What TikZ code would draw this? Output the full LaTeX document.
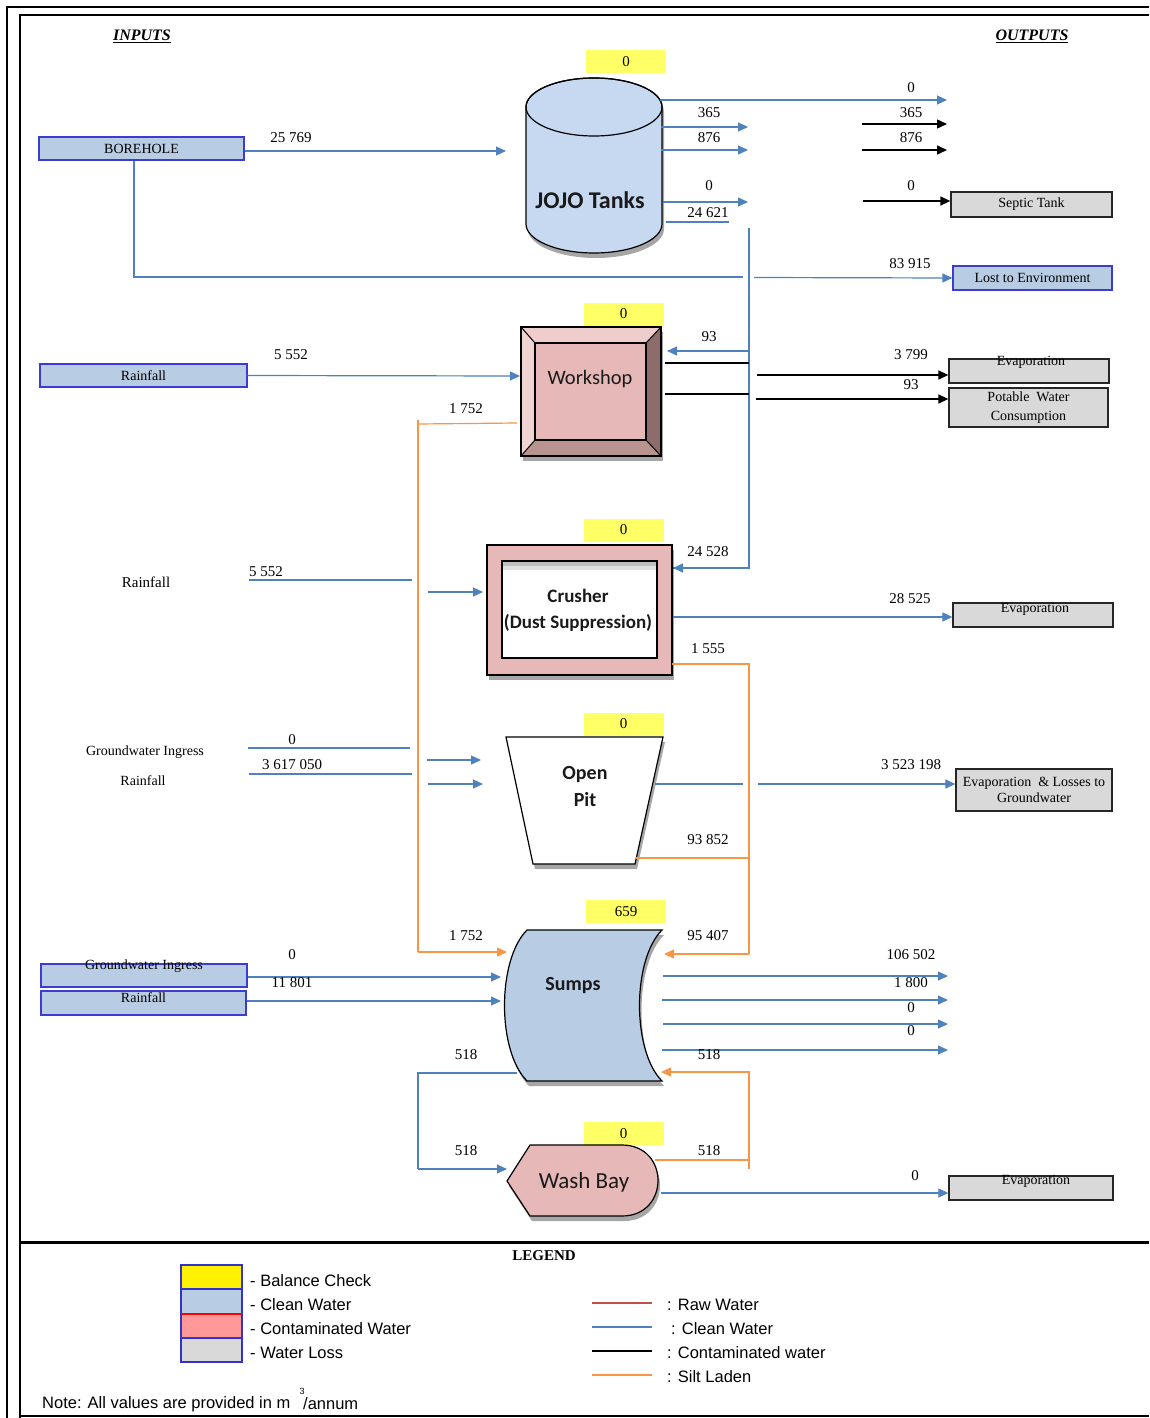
\documentclass[tikz,border=0pt]{standalone}
\usepackage{fontspec}
\setmainfont{Liberation Serif}
\newfontfamily\calib{Carlito}
\newfontfamily\arialf{Liberation Sans}
\usetikzlibrary{arrows.meta,shadows,calc}
\definecolor{cblue}{HTML}{4F81BD}
\definecolor{corange}{HTML}{F79646}
\definecolor{boxblue}{HTML}{B8CCE4}
\definecolor{boxborder}{HTML}{3C3CD0}
\definecolor{legborder}{HTML}{3333CC}
\definecolor{lossgray}{HTML}{D9D9D9}
\definecolor{balyellow}{HTML}{FFFF66}
\definecolor{pinkfill}{HTML}{E6B8B7}
\definecolor{jojoblue}{HTML}{C6D9F1}
\definecolor{bevtop}{HTML}{EECDCC}
\definecolor{bevleft}{HTML}{F0D4D4}
\definecolor{bevright}{HTML}{8E6C6B}
\definecolor{bevbot}{HTML}{B8938F}
\definecolor{legpink}{HTML}{FF9999}
\definecolor{legred}{HTML}{C0504D}
\definecolor{shapetext}{HTML}{1A1A1A}
\newcommand\nf{\fontsize{15}{17}\selectfont}
\newcommand\boxf{\fontsize{14}{16}\selectfont}
\newcommand\lf{\arialf\fontsize{16.5}{18}\selectfont}
\begin{document}
\begin{tikzpicture}[x=1pt,y=-1pt,
  lbl/.style={font=\nf, inner sep=0pt},
  blbl/.style={font=\boxf, inner sep=0pt},
  shtxt/.style={text=shapetext, align=center},
  bal/.style={fill=balyellow, minimum width=80, minimum height=23, inner sep=0pt, font=\nf},
  inbox/.style={draw=boxborder, fill=boxblue, line width=1.2pt, inner sep=0pt, font=\boxf},
  lossbox/.style={draw=black!85, fill=lossgray, line width=1.3pt, inner sep=0pt, font=\boxf},
  bl/.style={draw=cblue, line width=1.2pt},
  ba/.style={bl, -{Triangle[length=10pt,width=9pt]}},
  ol/.style={draw=corange, line width=1.2pt},
  oa/.style={ol, -{Triangle[length=10pt,width=9pt]}},
  kl/.style={draw=black, line width=2pt},
  ka/.style={draw=black, line width=1.4pt, -{Triangle[length=10pt,width=9pt]}},
  myshadow/.style={drop shadow={shadow xshift=2pt, shadow yshift=-5pt, fill=black, opacity=0.35}},
  shp/.style={draw=black, line width=1.2pt},
]
\useasboundingbox (0,0) rectangle (1149,1418);
\fill[white] (0,0) rectangle (1149,1418);
% frame
\draw[line width=2.5pt] (1149,7) -- (7,7) -- (7,1418);
\draw[line width=1.5pt] (1149,15) -- (20,15) -- (20,1418);
\draw[line width=1.5pt] (20,1416) -- (1149,1416);
\draw[line width=3pt] (20,1242) -- (1149,1242);

% headers
\node[font=\fontsize{16}{18}\selectfont\bfseries\itshape] (hin) at (142,36) {\underline{INPUTS}};
\node[font=\fontsize{16}{18}\selectfont\bfseries\itshape] (hout) at (1032,36) {\underline{OUTPUTS}};

% balance boxes
\node[bal] (b1) at (626,62) {0};
\node[bal] (b2) at (623.5,314) {0};
\node[bal] (b3) at (623.5,530) {0};
\node[bal] (b4) at (623.5,724) {0};
\node[bal] (b5) at (626,911.5) {659};
\node[bal] (b6) at (623.5,1133.5) {0};

% ===== JOJO tanks
\path[fill=jojoblue, shp, myshadow] (526,107) -- (526,224) arc[start angle=180, end angle=0, x radius=68, y radius=29] -- (662,107) arc[start angle=0, end angle=-180, x radius=68, y radius=29] -- cycle;
\draw[line width=1.2pt] (594,107) ellipse[x radius=68, y radius=29];
\node[shtxt, font=\calib\bfseries\fontsize{24}{26}\selectfont] (jojo) at (590,200) {JOJO Tanks};

% borehole
\node[inbox, minimum width=205, minimum height=23] (bh) at (141.5,148.5) {BOREHOLE};
\coordinate (bhin) at (506,151);
\draw[ba] (bh.east |- bhin) -- (bhin);
\node[lbl] (t1) at (291,138) {25 769};
\coordinate (bhc) at (134,277);
\draw[bl] (bh.south -| bhc) -- (bhc) -- (743,277);
\node[inbox, minimum width=159, minimum height=24] (lost) at (1032.5,278) {Lost to Environment};
\draw[ba] (754,277.5) -- (lost.west);
\node[lbl] (t2) at (910,264) {83 915};

% JOJO outputs
\draw[ba] (660,100) -- (947,100);
\node[lbl] (t3) at (911,88) {0};
\draw[ba] (661,127) -- (748,127);
\node[lbl] (t4) at (709,113) {365};
\draw[ba] (661,150) -- (748,150);
\node[lbl] (t5) at (709,138) {876};
\draw[ba] (663,202) -- (748,202);
\node[lbl] (t6) at (709,186) {0};
\draw[bl] (666,222) -- (729,222);
\node[lbl] (t7) at (708,213) {24 621};
\draw[ka] (862,124) -- (947,124);
\node[lbl] (t8) at (911,113) {365};
\draw[ka] (862,150) -- (947,150);
\node[lbl] (t9) at (911,138) {876};
\node[lossbox, minimum width=161, minimum height=25] (sep) at (1031.5,204.5) {Septic Tank};
\draw[ka] (863,201) -- (sep.west |- 0,201);
\node[lbl] (t10) at (911,186) {0};

% distribution line
\coordinate (d1) at (749,228);
\coordinate (d2) at (749,568);
\draw[bl] (d1) -- (d2) -- (673,568);
\draw[-{Triangle[length=10pt,width=9pt]}, cblue, line width=1.2pt] (700,568) -- (673,568);
\node[lbl] (t11) at (708,552) {24 528};
\draw[ba] (749,351) -- (667,351);
\node[lbl] (t12) at (709,337) {93};

% ===== Workshop
\node[fill=pinkfill, minimum width=140, minimum height=129, inner sep=0pt, myshadow] (ws) at (591,391.5) {};
\fill[bevtop] (521,327) -- (661,327) -- (646,343) -- (535,343) -- cycle;
\fill[bevleft] (521,327) -- (535,343) -- (535,440) -- (521,456) -- cycle;
\fill[bevright] (661,327) -- (661,456) -- (646,440) -- (646,343) -- cycle;
\fill[bevbot] (521,456) -- (661,456) -- (646,440) -- (535,440) -- cycle;
\draw[line width=1.2pt] (521,327) rectangle (661,456);
\draw[line width=1.2pt] (535,343) rectangle (646,440);
\draw[line width=1pt] (521,327) -- (535,343) (661,327) -- (646,343) (521,456) -- (535,440) (661,456) -- (646,440);
\node[shtxt, font=\calib\fontsize{20.5}{22}\selectfont] (wst) at (590,379) {Workshop};

\node[inbox, minimum width=207, minimum height=23] (rf1) at (143.5,375.5) {Rainfall};
\draw[ba] (rf1.east) -- (520,376);
\node[lbl] (t13) at (291,355) {5 552};
\draw[ol] (517,423) -- (418,424);
\draw[ol] (418,420) -- (418,952);
\draw[oa] (418,952) -- (507,952);
\node[lbl] (t14) at (466,409) {1 752};
\node[lbl] (t15) at (466,936) {1 752};

\draw[kl] (665,363) -- (749,363);
\draw[kl] (665,394) -- (749,394);
\node[lossbox, minimum width=160, minimum height=24] (ev1) at (1029,371) {};
\node[blbl] (ev1t) at (1031,362) {Evaporation};
\node[lossbox, minimum width=159, minimum height=39, align=center, font=\fontsize{14}{19}\selectfont] (pot) at (1028.5,407.5) {Potable \ Water\\Consumption};
\draw[ka] (757,375) -- (ev1.west |- 0,375);
\node[lbl] (t16) at (911,355) {3 799};
\draw[ka] (756,399) -- (pot.west |- 0,399);
\node[lbl] (t17) at (911,385) {93};

% ===== Crusher
\node[fill=pinkfill, draw=black, line width=1.2pt, minimum width=185, minimum height=130, inner sep=0pt, myshadow] (cr) at (579.5,610) {};
\fill[white] (502,561) rectangle (657,658);
\fill[black!25] (502,561) rectangle (657,566);
\fill[black!12] (502,566) rectangle (657,570);
\draw[line width=1.5pt] (502,561) rectangle (657,658);
\node[shtxt, font=\calib\bfseries\fontsize{19}{26}\selectfont] (crt) at (578,610) {Crusher\\(Dust Suppression)};

\node[lbl] (rf2) at (146,582) {Rainfall};
\draw[bl] (249,580) -- (412,580);
\node[lbl] (t18) at (266,572) {5 552};
\draw[ba] (428,592) -- (483,592);
\node[lossbox, minimum width=160, minimum height=24] (ev2) at (1033,615) {};
\node[blbl] (ev2t) at (1035,609) {Evaporation};
\draw[ba] (cr.east |- 0,617) -- (ev2.west |- 0,617);
\node[lbl] (t19) at (910,599) {28 525};
\draw[ol] (672,664) -- (749,664) -- (749,954);
\draw[oa] (749,954) -- (664,954);
\node[lbl] (t20) at (708,649) {1 555};
\node[lbl] (t21) at (708,936) {95 407};

% ===== Open pit
\path[fill=white, shp, myshadow] (506,737) -- (663,737) -- (635,864) -- (533,864) -- cycle;
\node[shtxt, font=\calib\bfseries\fontsize{20}{27}\selectfont] (opt) at (585,787) {Open\\Pit};
\node[blbl] (gw1) at (145,752) {Groundwater Ingress};
\node[blbl] (rf3) at (143,781) {Rainfall};
\draw[bl] (248,748) -- (410,748);
\draw[bl] (249,774) -- (412,774);
\node[lbl] (t22) at (292,740) {0};
\node[lbl] (t23) at (292,765) {3 617 050};
\draw[ba] (427,760) -- (481,760);
\draw[ba] (428,784) -- (483,784);
\draw[bl] (655,784) -- (743,784);
\node[lossbox, minimum width=156, minimum height=42, align=center, font=\fontsize{14}{16}\selectfont] (ev3) at (1034,790) {Evaporation \ \& Losses to\\Groundwater};
\draw[ba] (758,784) -- (ev3.west |- 0,784);
\node[lbl] (t24) at (911,765) {3 523 198};
\draw[ol] (636,858) -- (749,858);
\node[lbl] (t25) at (708,840) {93 852};

% ===== Sumps
\path[fill=boxblue, shp, myshadow] (527,930) -- (662,930) .. controls (632,960) and (632,1051) .. (662,1081) -- (527,1081) .. controls (497,1051) and (497,960) .. (527,930) -- cycle;
\node[shtxt, font=\calib\bfseries\fontsize{20}{22}\selectfont] (smt) at (573,986) {Sumps};
\node[inbox, minimum width=206, minimum height=23] (gw2) at (144,975.5) {};
\node[blbl] (gw2t) at (144,966) {Groundwater Ingress};
\node[inbox, minimum width=205, minimum height=24] (rf4) at (143.5,1003) {};
\node[blbl] (rf4t) at (143.5,998) {Rainfall};
\draw[ba] (gw2.east |- 0,977) -- (501,977);
\draw[ba] (rf4.east |- 0,1001) -- (501,1001);
\node[lbl] (t26) at (292,955) {0};
\node[lbl] (t27) at (292,983) {11 801};
\draw[ba] (663,976) -- (948,976);
\draw[ba] (662,1000) -- (948,1000);
\draw[ba] (663,1024) -- (948,1024);
\draw[ba] (662,1050) -- (948,1050);
\node[lbl] (t28) at (911,955) {106 502};
\node[lbl] (t29) at (911,983) {1 800};
\node[lbl] (t30) at (911,1008) {0};
\node[lbl] (t31) at (911,1031) {0};
\node[lbl] (t32) at (709,1055) {518};
\node[lbl] (t33) at (466,1055) {518};

% ===== Wash bay
\path[fill=pinkfill, shp, myshadow] (507,1181) -- (530,1145) -- (622,1145) .. controls (670,1145) and (670,1216) .. (622,1216) -- (530,1216) -- cycle;
\node[shtxt, font=\calib\fontsize{23}{25}\selectfont] (wbt) at (584,1182) {Wash Bay};
\draw[bl] (517,1073) -- (418,1073) -- (418,1169);
\draw[ba] (418,1169) -- (507,1169);
\node[lbl] (t34) at (466,1151) {518};
\draw[ol] (655,1160) -- (750,1160);
\draw[ol] (749,1169) -- (749,1072);
\draw[oa] (750,1072) -- (661,1072);
\node[lbl] (t35) at (709,1151) {518};
\node[lossbox, minimum width=164, minimum height=24] (ev4) at (1031,1188) {};
\node[blbl] (ev4t) at (1036,1181) {Evaporation};
\draw[ba] (661,1193) -- (ev4.west |- 0,1193);
\node[lbl] (t36) at (915,1176) {0};

% ===== Legend
\node[font=\fontsize{15}{17}\selectfont\bfseries] (leg) at (544,1256) {LEGEND};
\fill[yellow] (181,1265) rectangle (242,1289);
\fill[boxblue] (181,1289) rectangle (242,1313);
\fill[legpink] (181,1314) rectangle (242,1338);
\fill[lossgray] (181,1338) rectangle (242,1362);
\draw[legborder, line width=1.5pt] (181,1265) rectangle (242,1362);
\draw[legborder, line width=2.5pt] (181,1265) -- (242,1265) (181,1289) -- (242,1289) (181,1338) -- (242,1338) (181,1362) -- (242,1362);
\draw[red, line width=2.5pt] (181,1314) -- (242,1314);
\node[font=\lf, anchor=west, inner sep=0pt] (lg1) at (250,1281) {- Balance Check};
\node[font=\lf, anchor=west, inner sep=0pt] (lg2) at (250,1305) {- Clean Water};
\node[font=\lf, anchor=west, inner sep=0pt] (lg3) at (250,1329) {- Contaminated Water};
\node[font=\lf, anchor=west, inner sep=0pt] (lg4) at (250,1353) {- Water Loss};
\draw[legred, line width=1.2pt] (592,1303) -- (652,1303);
\draw[cblue, line width=1.2pt] (592,1327) -- (652,1327);
\draw[black, line width=1.4pt] (592,1351) -- (652,1351);
\draw[corange, line width=1.2pt] (592,1375) -- (652,1375);
\node[font=\lf, anchor=west, inner sep=0pt] (ll1) at (667,1305) {: Raw Water};
\node[font=\lf, anchor=west, inner sep=0pt] (ll2) at (671,1329) {: Clean Water};
\node[font=\lf, anchor=west, inner sep=0pt] (ll3) at (667,1353) {: Contaminated water};
\node[font=\lf, anchor=west, inner sep=0pt] (ll4) at (667,1377) {: Silt Laden};
\node[font=\lf, anchor=west, inner sep=0pt] (note) at (42,1404) {Note: All values are provided in m};
\node[font=\arialf\fontsize{9}{10}\selectfont, inner sep=0pt] (note3) at (302,1391) {3};
\node[font=\lf, anchor=west, inner sep=0pt] (note2) at (303,1404) {/annum};
\end{tikzpicture}
\end{document}
